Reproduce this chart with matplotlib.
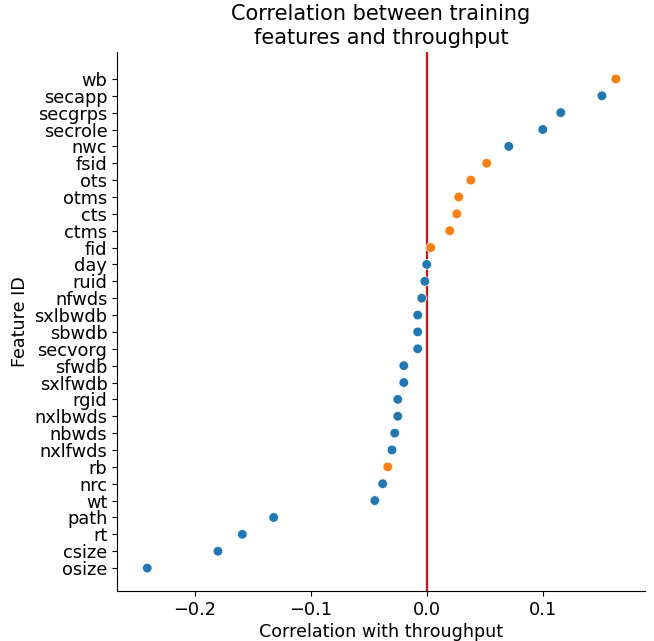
import matplotlib
matplotlib.use("Agg")
import matplotlib.pyplot as plt
import numpy as np

# Features, top to bottom as shown
features = [
    "wb", "secapp", "secgrps", "secrole", "nwc", "fsid", "ots", "otms",
    "cts", "ctms", "fid", "day", "ruid", "nfwds", "sxlbwdb", "sbwdb",
    "secvorg", "sfwdb", "sxlfwdb", "rgid", "nxlbwds", "nbwds", "nxlfwds",
    "rb", "nrc", "wt", "path", "rt", "csize", "osize",
]
correlation = [
    0.163, 0.151, 0.1155, 0.100, 0.0707, 0.0517, 0.038, 0.0276,
    0.0259, 0.0198, 0.0034, 0.0, -0.0017, -0.0043, -0.0078, -0.0078,
    -0.0078, -0.0198, -0.0198, -0.025, -0.025, -0.0276, -0.030,
    -0.0336, -0.038, -0.0448, -0.132, -0.159, -0.180, -0.241,
]
# orange = highlighted features
highlighted = ["wb", "fsid", "ots", "otms", "cts", "ctms", "fid", "rb"]

colors = ["#ff7f0e" if f in highlighted else "#1f77b4" for f in features]
ypos = np.arange(len(features))[::-1]

fig = plt.figure(figsize=(6.54, 6.41), dpi=100)
ax = fig.add_axes([0.179, 0.078, 0.807, 0.841])

ax.scatter(correlation, ypos, c=colors, s=48, edgecolors="white", linewidths=0.5, zorder=3)
ax.axvline(0, color="red", linewidth=1.5, zorder=2)

ax.set_yticks(ypos)
ax.set_yticklabels(features)
ax.set_ylim(-1.36, len(features) - 1 + 1.6)
ax.set_xlim(-0.267, 0.188)
ax.set_xticks([-0.2, -0.1, 0.0, 0.1])

ax.tick_params(axis="both", labelsize=12.8)
ax.set_xlabel("Correlation with throughput", fontsize=12.6, labelpad=3)
ax.set_ylabel("Feature ID", fontsize=12.6)
ax.set_title("Correlation between training\nfeatures and throughput", fontsize=15)

ax.spines["top"].set_visible(False)
ax.spines["right"].set_visible(False)

plt.savefig("out.png", dpi=100)
